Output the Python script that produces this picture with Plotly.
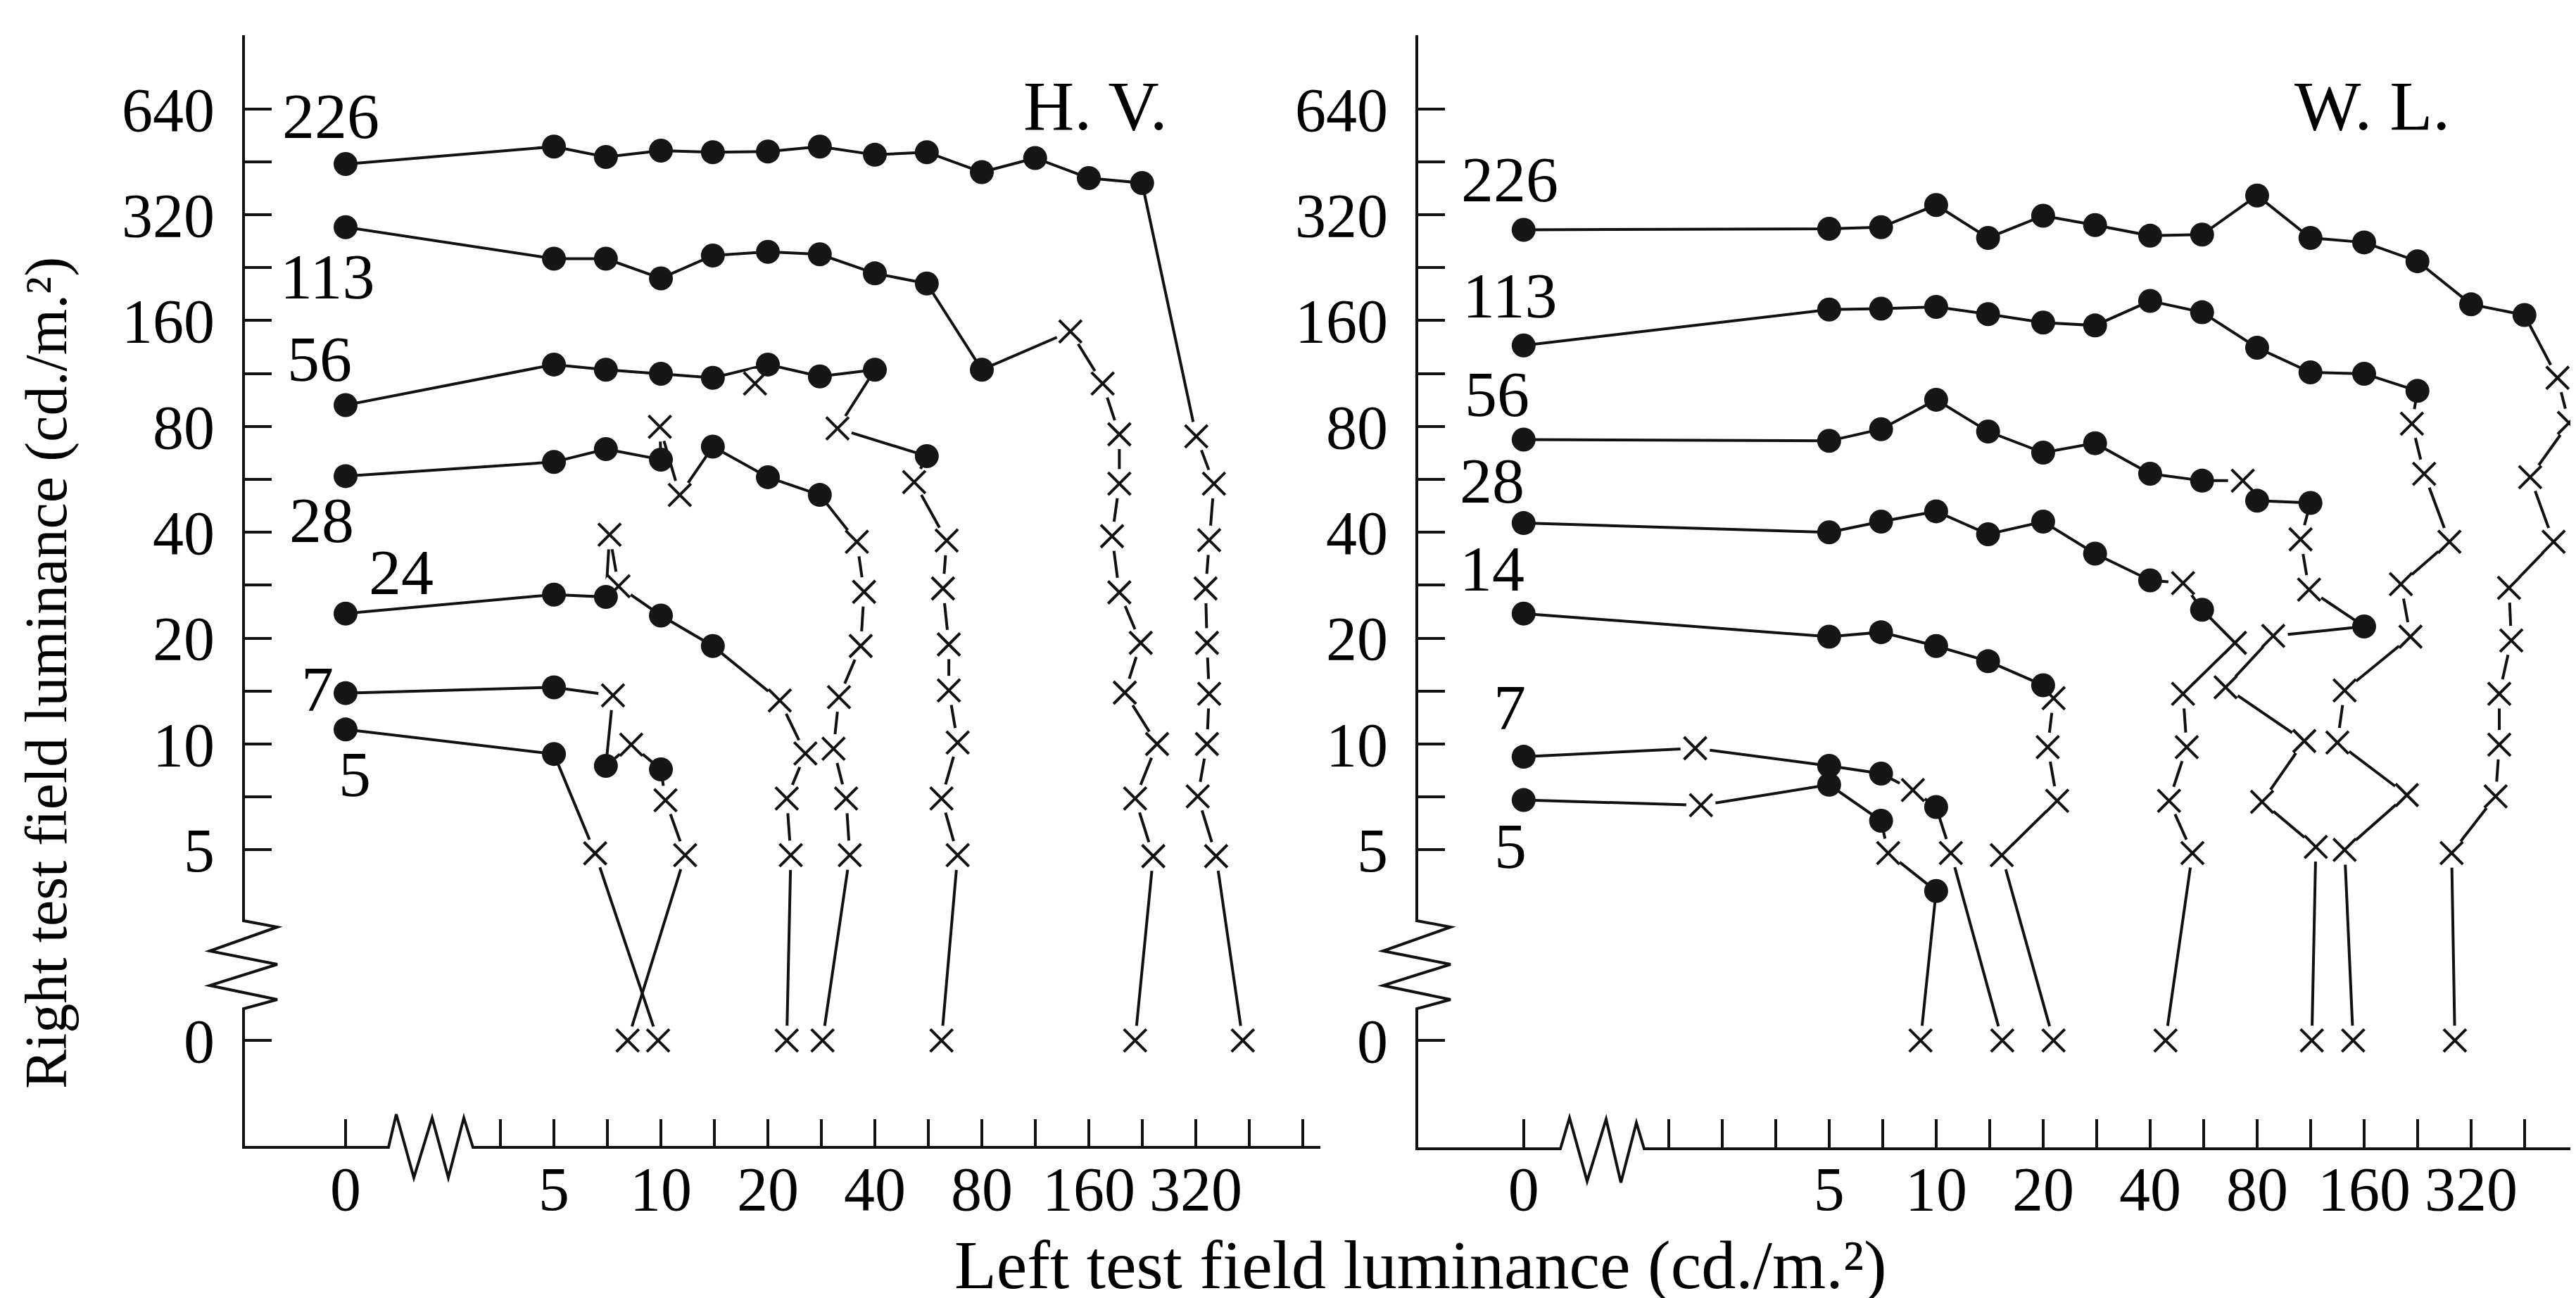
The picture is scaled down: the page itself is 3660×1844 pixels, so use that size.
import math
import plotly.graph_objects as go

# ---------------- DATA (cd./m.^2) ----------------
# marker codes: o = filled circle, x = cross
# ---- H. V. (left panel) ----
HV_226_X = [0, 5, 7, 10, 14, 20, 28, 40, 56, 80, 113, 160, 226, 321, 360, 349, 341, 344, 349, 344, 324, 365, 434]
HV_226_Y = [446, 500, 467, 487, 482, 484, 500, 474, 482, 423, 464, 407, 394, 75, 55, 38, 27.7, 19.4, 13.9, 10, 7.1, 4.8, 0]
HV_226_M = "oooooooooooooxxxxxxxxxx"

HV_113_X = [0, 5, 7, 10, 14, 20, 28, 40, 56, 80, 142, 175, 195, 195, 186, 195, 224, 202, 249, 216, 243, 216]
HV_113_Y = [295, 240, 240, 211, 245, 251, 247, 218, 204, 116, 149, 106, 76, 55, 39, 27, 19.4, 14, 10, 7, 4.8, 0]
HV_113_M = "ooooooooooxxxxxxxxxxxx"

HV_56_X = [0, 5, 7, 10, 14, 20, 28, 40, 31.4, 56, 51.6, 63.7, 62.2, 64.6, 64.6, 68.4, 61.6, 68.4, 61.6]
HV_56_Y = [92, 120, 116, 113, 110, 120, 111, 116, 79, 65.9, 55.6, 37.9, 27.7, 19.2, 14.2, 10.1, 7.0, 4.83, 0]
HV_56_M = "ooooooooxoxxxxxxxxx"

HV_28_X = [0, 5, 7, 10, 9.93, 11.3, 14, 20, 28, 35.6, 37.3, 36.5, 31.7, 30.6, 33.2, 34.0, 28.5]
HV_28_Y = [57.8, 63.4, 69, 64.4, 79.8, 51.1, 70.1, 57.4, 51.1, 37.6, 27.1, 19.0, 13.6, 9.7, 7.0, 4.83, 0]
HV_28_M = "ooooxxoooxxxxxxxx"

HV_24_X = [0, 5, 7, 7.17, 7.6, 10, 14, 21.6, 25.5, 22.6, 23.2, 22.6]
HV_24_Y = [23.5, 26.6, 26.2, 39.4, 28.1, 23.2, 19.0, 13.3, 9.4, 7.0, 4.83, 0]
HV_24_M = "oooxxooxxxxx"

HV_7_X = [0, 5, 7.33, 7, 8.25, 10, 10.3, 11.7, 8.06]
HV_7_Y = [13.96, 14.5, 13.75, 8.67, 9.96, 8.47, 6.92, 4.83, 0]
HV_7_M = "ooxoxoxxx"

HV_5_X = [0, 5, 6.53, 9.82]
HV_5_Y = [11.0, 9.37, 4.89, 0]
HV_5_M = "ooxx"

# isolated cross next to the 56 curve
HV_LONE_X = [18.4]
HV_LONE_Y = [106]
HV_LONE_M = "x"

# ---- W. L. (right panel) ----
WL_226_X = [0, 5, 7, 10, 14, 20, 28, 40, 56, 80, 113, 160, 226, 320, 452, 560, 603, 469, 546, 409, 415, 384, 384, 375, 282, 288]
WL_226_Y = [290, 292, 295, 341, 275, 318, 299, 279, 281, 363, 275, 267, 236, 178, 166, 110, 81.9, 57.4, 37.6, 27.8, 19.7, 13.9, 9.96, 7.1, 4.9, 0]
WL_226_M = "oooooooooooooooxxxxxxxxxxx"

WL_113_X = [0, 5, 7, 10, 14, 20, 28, 40, 56, 80, 113, 160, 226, 218, 236, 278, 203, 216, 141, 134.5, 211, 141, 149]
WL_113_Y = [136, 172, 173, 175, 167, 158, 155, 182, 169, 134, 114, 113, 101, 81.5, 58.7, 37.6, 28.5, 20.2, 14.2, 10.1, 7.16, 5.0, 0]
WL_113_M = "oooooooooooooxxxxxxxxxx"

WL_56_X = [0, 5, 7, 10, 14, 20, 28, 40, 56, 72.9, 80, 113, 106, 112, 160, 88.8, 65.2, 108.6, 82.6, 117, 114]
WL_56_Y = [73.4, 72.8, 78.6, 95.3, 77.4, 67.4, 71.7, 58.7, 56.1, 56.1, 49.2, 48.5, 38.2, 27.5, 21.6, 20.3, 14.5, 10.2, 6.85, 5.1, 0]
WL_56_M = "oooooooooxooxxoxxxxxx"

WL_28_X = [0, 5, 7, 10, 14, 20, 28, 40, 49.5, 56, 69.3, 49.5, 50.7, 45.2, 52.6, 44.2]
WL_28_Y = [42.5, 40, 42.9, 45.9, 39.5, 42.9, 34.8, 29.2, 28.7, 24.1, 19.4, 13.9, 9.8, 6.9, 4.9, 0]
WL_28_M = "ooooooooxoxxxxxx"

WL_14_X = [0, 5, 7, 10, 14, 20, 21.4, 20.6, 21.9, 15.3, 21.4]
WL_14_Y = [23.5, 20.2, 20.8, 19.0, 17.2, 14.7, 13.5, 9.8, 6.9, 4.83, 0]
WL_14_M = "ooooooxxxxx"

WL_7_X = [0, 2.10, 5, 7, 8.6, 10, 11.0, 15.35]
WL_7_Y = [9.2, 9.73, 8.67, 8.24, 7.4, 6.62, 4.9, 0]
WL_7_M = "oxooxoxx"

WL_5_X = [0, 2.18, 5, 7, 7.33, 10, 9.04]
WL_5_Y = [6.93, 6.70, 7.66, 6.05, 4.9, 3.82, 0]
WL_5_M = "oxooxox"

# curve labels
HV_LABELS = ["226", "113", "56", "28", "24", "7", "5"]
WL_LABELS = ["226", "113", "56", "28", "14", "7", "5"]
PANEL_TITLES = ["H. V.", "W. L."]
X_TITLE = "Left test field luminance (cd./m.²)"
Y_TITLE = "Right test field luminance (cd./m.²)"

# ticks (half-octave steps, labelled every octave)
Y_TICKVALS = [0, 5, 7.071, 10, 14.14, 20, 28.28, 40, 56.57, 80, 113.1, 160, 226.3, 320, 452.5, 640]
Y_TICKTEXT = ["0", "5", "", "10", "", "20", "", "40", "", "80", "", "160", "", "320", "", "640"]
HV_XTICKVALS = [0, 3.536, 5, 7.071, 10, 14.14, 20, 28.28, 40, 56.57, 80, 113.1, 160, 226.3, 320, 452.5, 640]
HV_XTICKTEXT = ["0", "", "5", "", "10", "", "20", "", "40", "", "80", "", "160", "", "320", "", ""]
WL_XTICKVALS = [0, 1.768, 2.5, 3.536, 5, 7.071, 10, 14.14, 20, 28.28, 40, 56.57, 80, 113.1, 160, 226.3, 320, 452.5, 640]
WL_XTICKTEXT = ["0", "", "", "", "5", "", "10", "", "20", "", "40", "", "80", "", "160", "", "320", "", ""]

# ---------------- LAYOUT CONSTANTS ----------------
W, H = 3660, 1844
FONT = "Liberation Serif"
X_ZERO_HV = 1.296   # axis position used for a value of 0 (axis break)
X_ZERO_WL = 0.691
Y_ZERO = 1.436


def px(x):
    return x / W


def py(y):
    return 1 - y / H


def path(points):
    return "M " + " L ".join(f"{px(a):.5f},{py(b):.5f}" for a, b in points)


fig = go.Figure()

hv = [(HV_226_X, HV_226_Y, HV_226_M), (HV_113_X, HV_113_Y, HV_113_M), (HV_56_X, HV_56_Y, HV_56_M),
      (HV_28_X, HV_28_Y, HV_28_M), (HV_24_X, HV_24_Y, HV_24_M), (HV_7_X, HV_7_Y, HV_7_M),
      (HV_5_X, HV_5_Y, HV_5_M), (HV_LONE_X, HV_LONE_Y, HV_LONE_M)]
wl = [(WL_226_X, WL_226_Y, WL_226_M), (WL_113_X, WL_113_Y, WL_113_M), (WL_56_X, WL_56_Y, WL_56_M),
      (WL_28_X, WL_28_Y, WL_28_M), (WL_14_X, WL_14_Y, WL_14_M), (WL_7_X, WL_7_Y, WL_7_M),
      (WL_5_X, WL_5_Y, WL_5_M)]

lines, halos, marks = [], [], []
for curves, xa, ya, xz in ((hv, "x", "y", X_ZERO_HV), (wl, "x2", "y2", X_ZERO_WL)):
    for xs, ys, ms in curves:
        xx = [xz if v == 0 else v for v in xs]
        yy = [Y_ZERO if v == 0 else v for v in ys]
        common = dict(xaxis=xa, yaxis=ya, hoverinfo="skip", showlegend=False)
        if len(xx) > 1:
            lines.append(go.Scatter(x=xx, y=yy, mode="lines", line=dict(color="#111", width=4), **common))
        cx = [a for a, m in zip(xx, ms) if m == "x"]
        cy = [b for b, m in zip(yy, ms) if m == "x"]
        ox = [a for a, m in zip(xx, ms) if m == "o"]
        oy = [b for b, m in zip(yy, ms) if m == "o"]
        halos.append(go.Scatter(x=cx, y=cy, mode="markers",
                                marker=dict(symbol="circle", size=42, color="white", line=dict(width=0)), **common))
        marks.append(go.Scatter(x=cx, y=cy, mode="markers",
                                marker=dict(symbol="x-thin", size=32, line=dict(color="#111", width=4)), **common))
        marks.append(go.Scatter(x=ox, y=oy, mode="markers",
                                marker=dict(symbol="circle", size=34, color="#161616", line=dict(width=0)), **common))

fig.add_traces(lines + halos + marks)

tickfont = dict(family=FONT, size=88, color="black")
axis_common = dict(showgrid=False, zeroline=False, showline=False, ticks="inside", ticklen=40, tickwidth=4,
                   tickcolor="#111", tickfont=tickfont, type="log")

Y_RANGE = [math.log10(0.713), math.log10(1037)]
fig.update_layout(
    width=W, height=H, margin=dict(l=0, r=0, t=0, b=0),
    paper_bgcolor="white", plot_bgcolor="white",
    xaxis=dict(domain=[px(338), px(1868)], range=[math.log10(0.669), math.log10(717.4)], anchor="y",
               tickvals=[X_ZERO_HV if v == 0 else v for v in HV_XTICKVALS], ticktext=HV_XTICKTEXT, **axis_common),
    yaxis=dict(domain=[py(1622), py(42)], range=Y_RANGE, anchor="x", ticklabelstandoff=40,
               tickvals=[Y_ZERO if v == 0 else v for v in Y_TICKVALS], ticktext=Y_TICKTEXT, **axis_common),
    xaxis2=dict(domain=[px(2005), 1.0], range=[math.log10(0.3459), math.log10(654.6)], anchor="y2",
                tickvals=[X_ZERO_WL if v == 0 else v for v in WL_XTICKVALS], ticktext=WL_XTICKTEXT, **axis_common),
    yaxis2=dict(domain=[py(1622), py(42)], range=Y_RANGE, anchor="x2", ticklabelstandoff=40,
                tickvals=[Y_ZERO if v == 0 else v for v in Y_TICKVALS], ticktext=Y_TICKTEXT, **axis_common),
)

# axis lines with break (zigzag) marks
axis_line = dict(color="#111", width=4)
left_axes = [(338, 42), (338, 1300), (386, 1309), (290, 1343), (386, 1362), (290, 1392), (386, 1412), (338, 1425),
             (338, 1622), (544, 1622), (555, 1575), (580, 1665), (606, 1580), (629, 1665), (651, 1580), (664, 1622),
             (1868, 1622)]
right_axes = [(2005, 42), (2005, 1300), (2053, 1309), (1957, 1343), (2053, 1362), (1957, 1392), (2053, 1412),
              (2005, 1425), (2005, 1624), (2209, 1624), (2222, 1580), (2247, 1670), (2274, 1582), (2295, 1672),
              (2317, 1587), (2328, 1624), (3660, 1624)]
for pts in (left_axes, right_axes):
    fig.add_shape(type="path", path=path(pts), xref="paper", yref="paper", line=axis_line, layer="above")

annotations = []
for text, (x, y) in zip(PANEL_TITLES, [(1548, 143), (3362, 143)]):
    annotations.append(dict(text=text, x=px(x), y=py(y), yanchor="middle",
                            font=dict(family=FONT, size=100, color="black")))
hv_pos = [(462, 157), (458, 385), (446, 502), (449, 731), (562, 805), (443, 971), (496, 1092)]
wl_pos = [(2137, 247), (2137, 412), (2119, 552), (2112, 675), (2112, 800), (2137, 997), (2138, 1194)]
for labels, poss in ((HV_LABELS, hv_pos), (WL_LABELS, wl_pos)):
    for text, (x, y) in zip(labels, poss):
        annotations.append(dict(text=text, x=px(x), y=py(y), yanchor="middle",
                                font=dict(family=FONT, size=92, color="black")))
annotations.append(dict(text=X_TITLE, x=px(2010), y=0.0, yanchor="bottom", borderpad=0,
                        font=dict(family=FONT, size=98, color="black")))
annotations.append(dict(text=Y_TITLE, x=px(58), y=py(948), textangle=-90, yanchor="middle",
                        font=dict(family=FONT, size=84, color="black")))
for a in annotations:
    a.update(xref="paper", yref="paper", showarrow=False, xanchor="center")
fig.update_layout(annotations=annotations)

fig.write_html("out.html")
